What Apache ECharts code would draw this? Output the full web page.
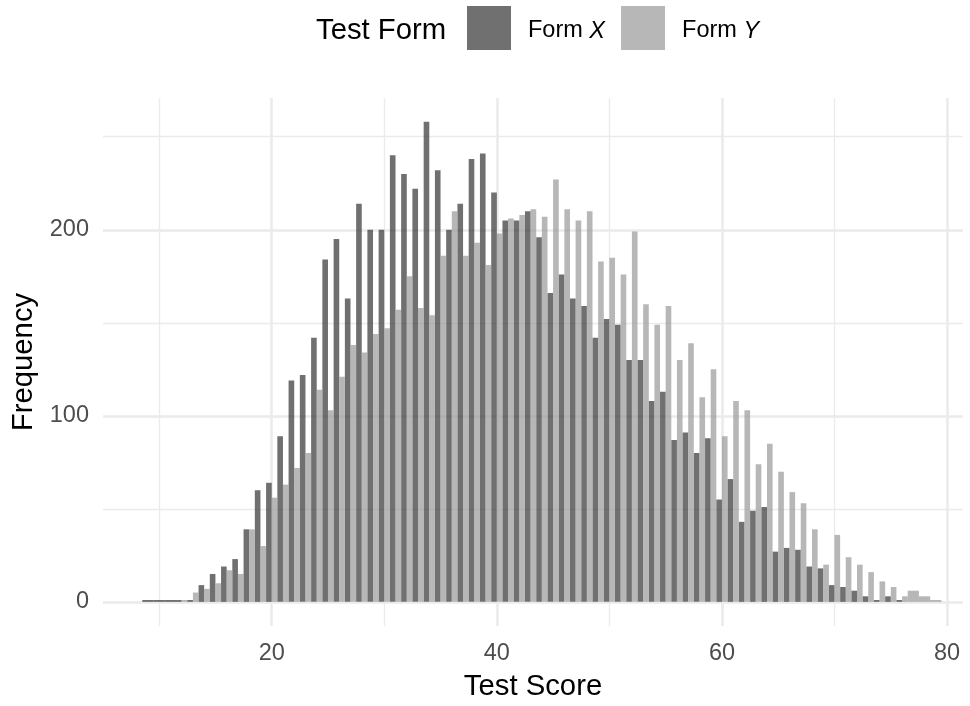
<!DOCTYPE html>
<html>
<head>
<meta charset="utf-8">
<script src="https://cdn.jsdelivr.net/npm/echarts@6/dist/echarts.min.js"></script>
<style>
  html, body { margin: 0; padding: 0; background: #ffffff; }
  #chart { width: 970px; height: 706px; }
</style>
</head>
<body>
<div id="chart"></div>
<script>
// ---- data ----
var scores = [9,10,11,12,13,14,15,16,17,18,19,20,21,22,23,24,25,26,27,28,29,30,31,32,33,34,35,36,37,38,39,40,41,42,43,44,45,46,47,48,49,50,51,52,53,54,55,56,57,58,59,60,61,62,63,64,65,66,67,68,69,70,71,72,73,74,75,76,77,78,79];
var formX  = [1,1,1,1,1,9,15,19,23,39,60,64,89,119,122,142,184,195,163,214,200,200,240,230,222,258,232,200,214,238,241,220,205,205,210,196,166,176,163,159,142,152,149,130,130,108,113,87,91,80,88,55,66,43,49,51,27,29,28,19,18,9,8,6,3,1,3,1,0,0,0];
var formY  = [0,0,0,1,5,7,10,17,15,39,30,56,63,72,80,114,103,121,138,134,144,147,157,175,158,154,186,210,186,193,181,198,206,208,211,207,227,211,205,210,183,185,176,199,160,149,159,130,139,110,125,89,108,103,74,85,70,59,53,39,20,36,24,20,16,11,8,3,6,3,1];
var seriesNames = ['Form X', 'Form Y'];
var legendTitle = 'Test Form';
var xTitle = 'Test Score';
var yTitle = 'Frequency';

var FONT = '"Liberation Sans", Arial, Helvetica, sans-serif';
var colX = 'rgba(51,51,51,0.7)';
var colY = 'rgba(153,153,153,0.7)';

function buildData(own, other) {
  var out = [];
  for (var i = 0; i < scores.length; i++) {
    if (own[i] > 0) out.push([scores[i], own[i], other[i]]);
  }
  return out;
}

function makeRender(which, color) {
  return function (params, api) {
    var s = api.value(0), v = api.value(1), other = api.value(2);
    var x0, x1;
    if (other > 0) {
      if (which === 0) { x0 = s - 0.5; x1 = s; } else { x0 = s; x1 = s + 0.5; }
    } else { x0 = s - 0.5; x1 = s + 0.5; }
    var p0 = api.coord([x0, 0]);
    var p1 = api.coord([x1, v]);
    return {
      type: 'rect',
      shape: { x: p0[0], y: p1[1], width: p1[0] - p0[0], height: p0[1] - p1[1] },
      style: { fill: color }
    };
  };
}

var GRID = '#EBEBEB';
var xMin = 5.012, xMax = 81.415;
var yMin = -12.97, yMax = 270.82;

var chart = echarts.init(document.getElementById('chart'), null, { renderer: 'canvas' });

var option = {
  animation: false,
  backgroundColor: '#ffffff',
  textStyle: { fontFamily: FONT },
  grid: { left: 103, right: 7, top: 98, bottom: 72, containLabel: false },
  legend: {
    left: 467, top: 6, padding: 0,
    itemWidth: 44, itemHeight: 44, itemGap: 16,
    icon: 'rect',
    data: seriesNames,
    formatter: function (name) {
      var p = name.split(' ');
      return '{n|' + p[0] + ' }{i|' + p[1] + '}';
    },
    textStyle: {
      fontFamily: FONT,
      rich: {
        n: { fontSize: 23.5, color: '#000', fontFamily: FONT, padding: [6, 0, 0, 12] },
        i: { fontSize: 23.5, color: '#000', fontFamily: FONT, fontStyle: 'italic', padding: [6, 0, 0, 0] }
      }
    }
  },
  graphic: [{
    type: 'text', left: 316, top: 16,
    style: { text: legendTitle, font: '29.3px ' + FONT, fill: '#000' }
  }],
  xAxis: [{
    type: 'value', min: xMin, max: xMax, minInterval: 10, maxInterval: 10,
    axisLine: { show: false }, axisTick: { show: false }, axisLabel: { show: false },
    splitLine: { show: true, showMinLine: false, showMaxLine: false, lineStyle: { color: GRID, width: 1.3 } }
  }, {
    type: 'value', min: xMin, max: xMax, minInterval: 20, maxInterval: 20, position: 'bottom',
    axisLine: { show: false }, axisTick: { show: false },
    axisLabel: {
      show: true, color: '#4D4D4D', fontSize: 23.5, fontFamily: FONT, margin: 16,
      showMinLabel: false, showMaxLabel: false,
      formatter: function (v) { return (Math.abs(v % 20) < 1e-6) ? String(v) : ''; }
    },
    splitLine: { show: true, showMinLine: false, showMaxLine: false, lineStyle: { color: GRID, width: 2.6 } },
    name: xTitle, nameLocation: 'middle', nameGap: 46,
    nameTextStyle: { color: '#000', fontSize: 29.3, fontFamily: FONT }
  }],
  yAxis: [{
    type: 'value', min: yMin, max: yMax, minInterval: 50, maxInterval: 50,
    axisLine: { show: false }, axisTick: { show: false }, axisLabel: { show: false },
    splitLine: { show: true, showMinLine: false, showMaxLine: false, lineStyle: { color: GRID, width: 1.3 } }
  }, {
    type: 'value', min: yMin, max: yMax, minInterval: 100, maxInterval: 100, position: 'left',
    axisLine: { show: false }, axisTick: { show: false },
    axisLabel: {
      show: true, color: '#4D4D4D', fontSize: 23.5, fontFamily: FONT, margin: 14,
      showMinLabel: false, showMaxLabel: false,
      formatter: function (v) { return (Math.abs(v % 100) < 1e-6) ? String(v) : ''; }
    },
    splitLine: { show: true, showMinLine: false, showMaxLine: false, lineStyle: { color: GRID, width: 2.6 } },
    name: yTitle, nameLocation: 'middle', nameGap: 57, nameRotate: 90,
    nameTextStyle: { color: '#000', fontSize: 29.3, fontFamily: FONT }
  }],
  series: [{
    name: seriesNames[0], type: 'custom', xAxisIndex: 0, yAxisIndex: 0,
    itemStyle: { color: colX },
    encode: { x: 0, y: 1 },
    renderItem: makeRender(0, colX),
    data: buildData(formX, formY),
    z: 3
  }, {
    name: seriesNames[1], type: 'custom', xAxisIndex: 0, yAxisIndex: 0,
    itemStyle: { color: colY },
    encode: { x: 0, y: 1 },
    renderItem: makeRender(1, colY),
    data: buildData(formY, formX),
    z: 3
  }]
};
chart.setOption(option);
</script>
</body>
</html>
